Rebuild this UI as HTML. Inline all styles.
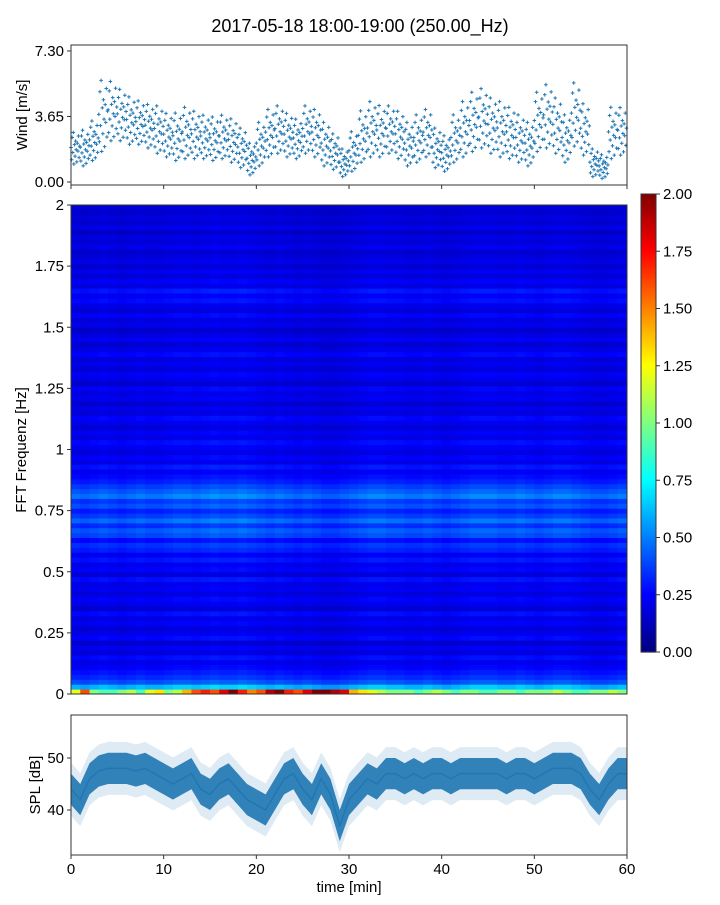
<!DOCTYPE html>
<html><head><meta charset="utf-8"><style>
body{margin:0;background:#fff;font-family:"Liberation Sans",sans-serif;}
svg text{font-family:"Liberation Sans",sans-serif;fill:#000;}
</style></head><body>
<svg id="fig" width="720" height="900" viewBox="0 0 720 900" xmlns="http://www.w3.org/2000/svg">
<text x="360" y="32" font-size="18" text-anchor="middle">2017-05-18 18:00-19:00 (250.00_Hz)</text>
<g id="wind"></g>
<g id="spec"></g>
<g id="cbar"></g>
<g id="spl"></g>
</svg>
<script>
const windMean=[1.8,1.8,2.2,3.5,3.8,3.6,3.3,3.2,3.0,2.8,2.5,2.4,2.6,2.5,2.4,2.3,2.4,2.2,1.8,1.2,2.0,2.6,2.8,2.5,2.3,2.8,2.6,2.0,1.6,1.0,1.6,2.4,2.8,2.7,2.8,2.5,2.0,2.3,2.6,1.8,1.5,2.3,2.8,3.2,3.4,3.0,2.8,2.6,2.3,2.0,3.2,3.5,3.0,2.3,3.6,2.8,1.0,0.8,2.6,2.7];
const windSpread=[0.8,0.9,1.0,1.8,1.5,1.3,1.2,1.1,1.1,1.2,1.1,1.2,1.3,1.2,1.1,1.1,1.1,1.1,1.0,0.8,1.1,1.2,1.2,1.1,1.0,1.2,1.2,1.1,0.9,0.7,1.0,1.3,1.4,1.3,1.2,1.2,1.1,1.2,1.2,1.0,0.9,1.2,1.4,1.5,1.5,1.4,1.4,1.3,1.2,1.1,1.5,1.6,1.4,1.2,1.6,1.3,0.7,0.6,1.3,1.2];
const windTicks=["0.00","3.65","7.30"];
const splMean=[44,42,46,47.5,48,48,48,47.5,48,47,46,45,46,47,44,43,45,46,44,42,41,40,43,46,47,44,42,46,43,37,42,44,46,45,47,47,46,47,46,47,47,46,47,47,47,47,47,46,47,47,46,47,48,48,48,47,44,42,45,47,47];
const splSpread=[3,3,3,3,3,3,3,3,3,3,3,3,3,3,3,3,3,3,3,3,3,3,3,3,3,3,3,3,3,3,3,3,3,3,3,3,3,3,3,3,3,3,3,3,3,3,3,3,3,3,3,3,3,3,3,3,3,3,3,3,3];
const xTicks=[0,10,20,30,40,50,60];
const splTicks=[40,50];
const freqLevel=[1.4,0.6,0.4,0.32,0.28,0.24,0.2,0.26,0.18,0.22,0.15,0.25,0.2,0.17,0.23,0.19,0.26,0.16,0.21,0.24,0.18,0.22,0.2,0.27,0.17,0.24,0.21,0.28,0.22,0.3,0.34,0.26,0.38,0.42,0.33,0.45,0.36,0.3,0.4,0.35,0.48,0.42,0.36,0.3,0.26,0.22,0.28,0.2,0.24,0.18,0.22,0.26,0.19,0.23,0.17,0.21,0.25,0.18,0.2,0.16,0.22,0.19,0.24,0.15,0.2,0.23,0.17,0.21,0.18,0.25,0.2,0.16,0.22,0.19,0.14,0.21,0.18,0.24,0.17,0.2,0.26,0.22,0.28,0.19,0.23,0.17,0.21,0.16,0.2,0.18,0.15,0.21,0.17,0.19,0.14,0.2,0.16,0.18,0.15,0.17];
const timeMod=[1.0,0.95,1.0,1.05,1.0,0.95,1.0,1.05,1.0,1.0,1.05,1.1,1.1,1.05,1.1,1.15,1.1,1.1,1.15,1.1,1.05,1.0,1.05,1.0,0.95,1.0,0.95,0.9,0.9,0.95,1.0,1.05,1.1,1.1,1.05,1.05,1.0,1.0,1.05,1.0,0.95,1.0,1.05,1.1,1.1,1.1,1.05,1.05,1.1,1.05,1.0,1.05,1.1,1.1,1.05,1.0,0.95,0.95,1.0,1.05];
const lowFreqTime=[1.2,1.6,1.0,0.9,0.9,1.0,1.1,0.9,1.2,1.3,1.0,1.1,1.4,1.6,1.7,1.6,1.8,2.0,1.7,1.5,1.6,1.9,2.0,1.7,1.6,1.8,2.0,2.0,1.9,1.8,1.4,1.3,1.2,1.1,1.0,1.0,1.0,0.9,1.0,1.1,1.0,0.9,1.0,1.0,0.9,0.9,1.0,1.0,0.9,1.0,1.0,1.0,1.1,1.0,0.9,0.9,1.0,1.0,1.1,1.0];
const freqTicks=[0,0.25,0.5,0.75,1,1.25,1.5,1.75,2];
const freqTickLabels=["0","0.25","0.5","0.75","1","1.25","1.5","1.75","2"];
const cbarTicks=[0,0.25,0.5,0.75,1,1.25,1.5,1.75,2];

const NS="http://www.w3.org/2000/svg";
function mk(parent,tag,attrs){const e=document.createElementNS(NS,tag);for(const k in attrs)e.setAttribute(k,attrs[k]);parent.appendChild(e);return e;}
const X0=71,X1=627;
const xs=t=>X0+(t/60)*(X1-X0);
const C="#1f77b4";
function jet(v){v=Math.max(0,Math.min(1,v));
 const r=Math.max(0,Math.min(1,1.5-Math.abs(4*v-3))),g=Math.max(0,Math.min(1,1.5-Math.abs(4*v-2))),b=Math.max(0,Math.min(1,1.5-Math.abs(4*v-1)));
 return `rgb(${Math.round(r*255)},${Math.round(g*255)},${Math.round(b*255)})`;}

// ---------- wind ----------
const W=document.getElementById('wind');
const wy=v=>182-v*17.95;
const offs=[0.15,-0.7,0.85,-0.2,1.2,-1,0.35,-0.45,0.6,0,-0.85,0.45,-0.1,0.95,-0.55,0.25];
for(let t=0;t<windMean.length;t++){
 for(let j=0;j<offs.length;j++){
  const x=xs(t+j/offs.length), y=wy(windMean[t]+offs[j]*windSpread[t]);
  const p=mk(W,'path',{d:`M${x-1.8} ${y}h3.6M${x} ${y-1.8}v3.6`,stroke:C,'stroke-width':1});
  
  
 }
}
mk(W,'rect',{x:X0,y:45,width:X1-X0,height:140,fill:'none',stroke:'#333','stroke-width':1});
windTicks.forEach(s=>{const y=wy(parseFloat(s));
 mk(W,'line',{x1:X0-4,x2:X0,y1:y,y2:y,stroke:'#333'});
 const t=mk(W,'text',{x:X0-7,y:y+5,'font-size':15,'text-anchor':'end'});t.textContent=s;
 
 });
xTicks.forEach(v=>mk(W,'line',{x1:xs(v),x2:xs(v),y1:185,y2:189,stroke:'#333'}));
{const t=mk(W,'text',{x:0,y:0,'font-size':15,'text-anchor':'middle',transform:'translate(27,115) rotate(-90)'});t.textContent='Wind [m/s]';
 
 }

// ---------- spectrogram ----------
const S=document.getElementById('spec');
const SY0=694,SY1=205;
const fy=f=>SY0-(f/2)*(SY0-SY1);
const nf=freqLevel.length, df=2/nf;
for(let t=0;t<timeMod.length;t++){
 for(let f=0;f<nf;f++){
  let v=freqLevel[f]*timeMod[t];
  if(f===0)v=lowFreqTime[t];
  const y=fy((f+1)*df), h=fy(f*df)-y;
  const r=mk(S,'rect',{x:xs(t),y:y,width:xs(t+1)-xs(t)+0.5,height:h+0.5,fill:jet(v/2)});
  
  
 }
}
mk(S,'rect',{x:X0,y:SY1,width:X1-X0,height:SY0-SY1,fill:'none',stroke:'#333'});
freqTicks.forEach((f,i)=>{const y=fy(f);
 mk(S,'line',{x1:X0-4,x2:X0,y1:y,y2:y,stroke:'#333'});
 const t=mk(S,'text',{x:X0-7,y:y+5,'font-size':15,'text-anchor':'end'});t.textContent=freqTickLabels[i];
 
 });
{const t=mk(S,'text',{x:0,y:0,'font-size':15,'text-anchor':'middle',transform:'translate(26,450) rotate(-90)'});t.textContent='FFT Frequenz [Hz]';
 
 }

// ---------- colorbar ----------
const CB=document.getElementById('cbar');
const CY0=652,CY1=194;
const cy=v=>CY0-(v/2)*(CY0-CY1);
for(let i=0;i<200;i++){const v0=i/100;mk(CB,'rect',{x:641,y:cy(v0+0.01),width:15,height:(CY0-CY1)/200+0.6,fill:jet(v0/2)});}
mk(CB,'rect',{x:641,y:CY1,width:15,height:CY0-CY1,fill:'none',stroke:'#333'});
cbarTicks.forEach(v=>{const y=cy(v);
 mk(CB,'line',{x1:656,x2:660,y1:y,y2:y,stroke:'#333'});
 const t=mk(CB,'text',{x:663,y:y+5,'font-size':15});t.textContent=v.toFixed(2);
 
 });

// ---------- SPL ----------
const P=document.getElementById('spl');
const py=v=>758-(v-50)*5.2;
function band(k,op){let top='',bot='';
 for(let t=0;t<splMean.length;t++){top+=(t?'L':'M')+xs(t)+' '+py(splMean[t]+k*splSpread[t]);}
 for(let t=splMean.length-1;t>=0;t--){bot+='L'+xs(t)+' '+py(splMean[t]-k*splSpread[t]);}
 const p=mk(P,'path',{d:top+bot+'Z',fill:C,'fill-opacity':op});
 
 }
band(1.7,0.15);band(1,0.9);
{let d='';for(let t=0;t<splMean.length;t++)d+=(t?'L':'M')+xs(t)+' '+py(splMean[t]);
 const p=mk(P,'path',{d:d,fill:'none',stroke:C,'stroke-width':1.5});
 
 }
mk(P,'rect',{x:X0,y:715,width:X1-X0,height:140,fill:'none',stroke:'#333'});
splTicks.forEach(v=>{const y=py(v);
 mk(P,'line',{x1:X0-4,x2:X0,y1:y,y2:y,stroke:'#333'});
 const t=mk(P,'text',{x:X0-7,y:y+5,'font-size':15,'text-anchor':'end'});t.textContent=v;
 
 });
xTicks.forEach(v=>{mk(P,'line',{x1:xs(v),x2:xs(v),y1:855,y2:859,stroke:'#333'});
 const t=mk(P,'text',{x:xs(v),y:874,'font-size':15,'text-anchor':'middle'});t.textContent=v;
 
 });
{const t=mk(P,'text',{x:349,y:892,'font-size':15,'text-anchor':'middle'});t.textContent='time [min]';
 
 }
{const t=mk(P,'text',{x:0,y:0,'font-size':15,'text-anchor':'middle',transform:'translate(40,785) rotate(-90)'});t.textContent='SPL [dB]';
 
 }
</script>
</body></html>
